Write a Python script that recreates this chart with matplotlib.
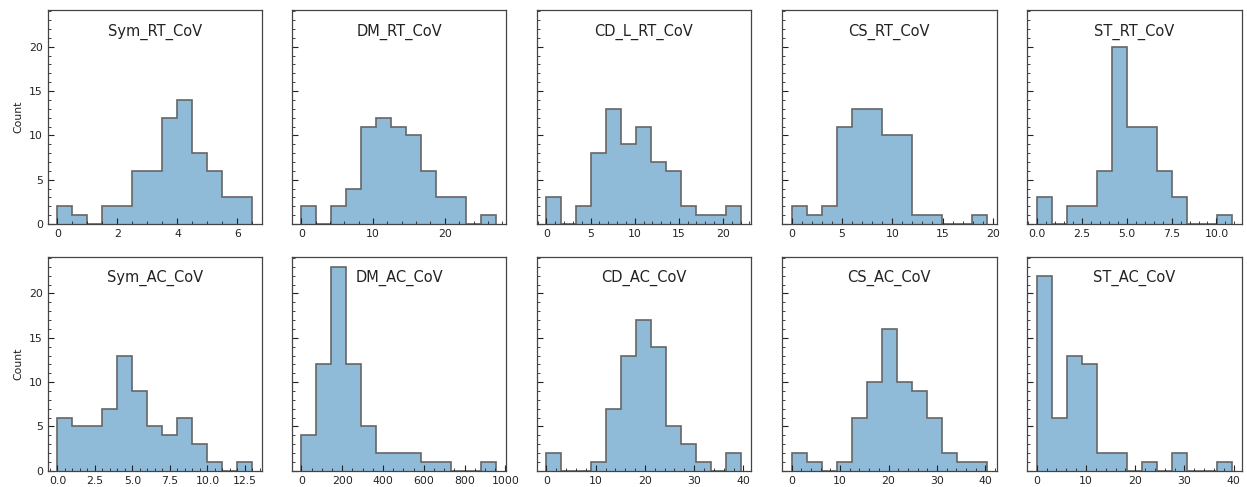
import numpy as np
import matplotlib
matplotlib.use("Agg")
import matplotlib.pyplot as plt
from matplotlib.ticker import AutoMinorLocator

names = ["Sym_RT_CoV", "DM_RT_CoV", "CD_L_RT_CoV", "CS_RT_CoV", "ST_RT_CoV",
         "Sym_AC_CoV", "DM_AC_CoV", "CD_AC_CoV", "CS_AC_CoV", "ST_AC_CoV"]

# bin ranges (13 equal-width bins each)
bin_lo = [0, 0, 0, 0, 0, 0, 0, 0, 0, 0]
bin_hi = [6.5, 27.2, 22.1, 19.4, 10.85, 13.0, 956, 39.6, 40.3, 39.6]

sym_rt = [2, 1, 0, 2, 2, 6, 6, 12, 14, 8, 6, 3, 3]
dm_rt = [2, 0, 2, 4, 11, 12, 11, 10, 6, 3, 3, 0, 1]
cdl_rt = [3, 0, 2, 8, 13, 9, 11, 7, 6, 2, 1, 1, 2]
cs_rt = [2, 1, 2, 11, 13, 13, 10, 10, 1, 1, 0, 0, 1]
st_rt = [3, 0, 2, 2, 6, 20, 11, 11, 6, 3, 0, 0, 1]
sym_ac = [6, 5, 5, 7, 13, 9, 5, 4, 6, 3, 1, 0, 1]
dm_ac = [4, 12, 23, 12, 5, 2, 2, 2, 1, 1, 0, 0, 1]
cd_ac = [2, 0, 0, 1, 7, 13, 17, 14, 5, 3, 1, 0, 2]
cs_ac = [2, 1, 0, 1, 6, 10, 16, 10, 9, 6, 2, 1, 1]
st_ac = [22, 6, 13, 12, 2, 2, 0, 1, 0, 2, 0, 0, 1]

counts = [sym_rt, dm_rt, cdl_rt, cs_rt, st_rt, sym_ac, dm_ac, cd_ac, cs_ac, st_ac]

xticks = [[0, 2, 4, 6], [0, 10, 20], [0, 5, 10, 15, 20], [0, 5, 10, 15, 20],
          [0, 2.5, 5, 7.5, 10], [0, 2.5, 5, 7.5, 10, 12.5],
          [0, 200, 400, 600, 800, 1000], [0, 10, 20, 30, 40],
          [0, 10, 20, 30, 40], [0, 10, 20, 30, 40]]

W, H = 1247, 487
fig = plt.figure(figsize=(W / 100, H / 100), dpi=100)

col_left = [47.7, 291.7, 536.7, 782, 1027]
ax_w = 214.5
row_top = [10, 256.7]
ax_h = 214

fill_c = "#8fbbd9"
edge_c = "#666666"

axes = []
first = None
for i, (name, c) in enumerate(zip(names, counts)):
    r, k = divmod(i, 5)
    rect = [col_left[k] / W, 1 - (row_top[r] + ax_h) / H, ax_w / W, ax_h / H]
    ax = fig.add_axes(rect, sharey=first)
    if first is None:
        first = ax
    edges = np.linspace(bin_lo[i], bin_hi[i], len(c) + 1)
    ax.stairs(c, edges, fill=True, color=fill_c, linewidth=0)
    ax.stairs(c, edges, baseline=0, color=edge_c, linewidth=1.2)
    ax.set_xmargin(0.05)
    ax.autoscale_view()
    ax.set_xticks(xticks[i])
    ax.text(0.5, 0.90, name, transform=ax.transAxes, ha="center", va="center",
            fontsize=10.5, color="#222222")
    ax.tick_params(which="both", direction="in", labelsize=7.8, colors="#222222")
    ax.tick_params(which="major", length=4)
    ax.tick_params(which="minor", length=2)
    ax.xaxis.set_minor_locator(AutoMinorLocator())
    ax.yaxis.set_minor_locator(AutoMinorLocator())
    for s in ax.spines.values():
        s.set_color("#444444")
        s.set_linewidth(0.9)
    if k == 0:
        ax.set_ylabel("Count", fontsize=7.8, color="#222222")
    else:
        ax.tick_params(labelleft=False)
    axes.append(ax)

first.set_ylim(0, 23 * 1.05)
first.set_yticks([0, 5, 10, 15, 20])

fig.savefig("out.png", dpi=100)
